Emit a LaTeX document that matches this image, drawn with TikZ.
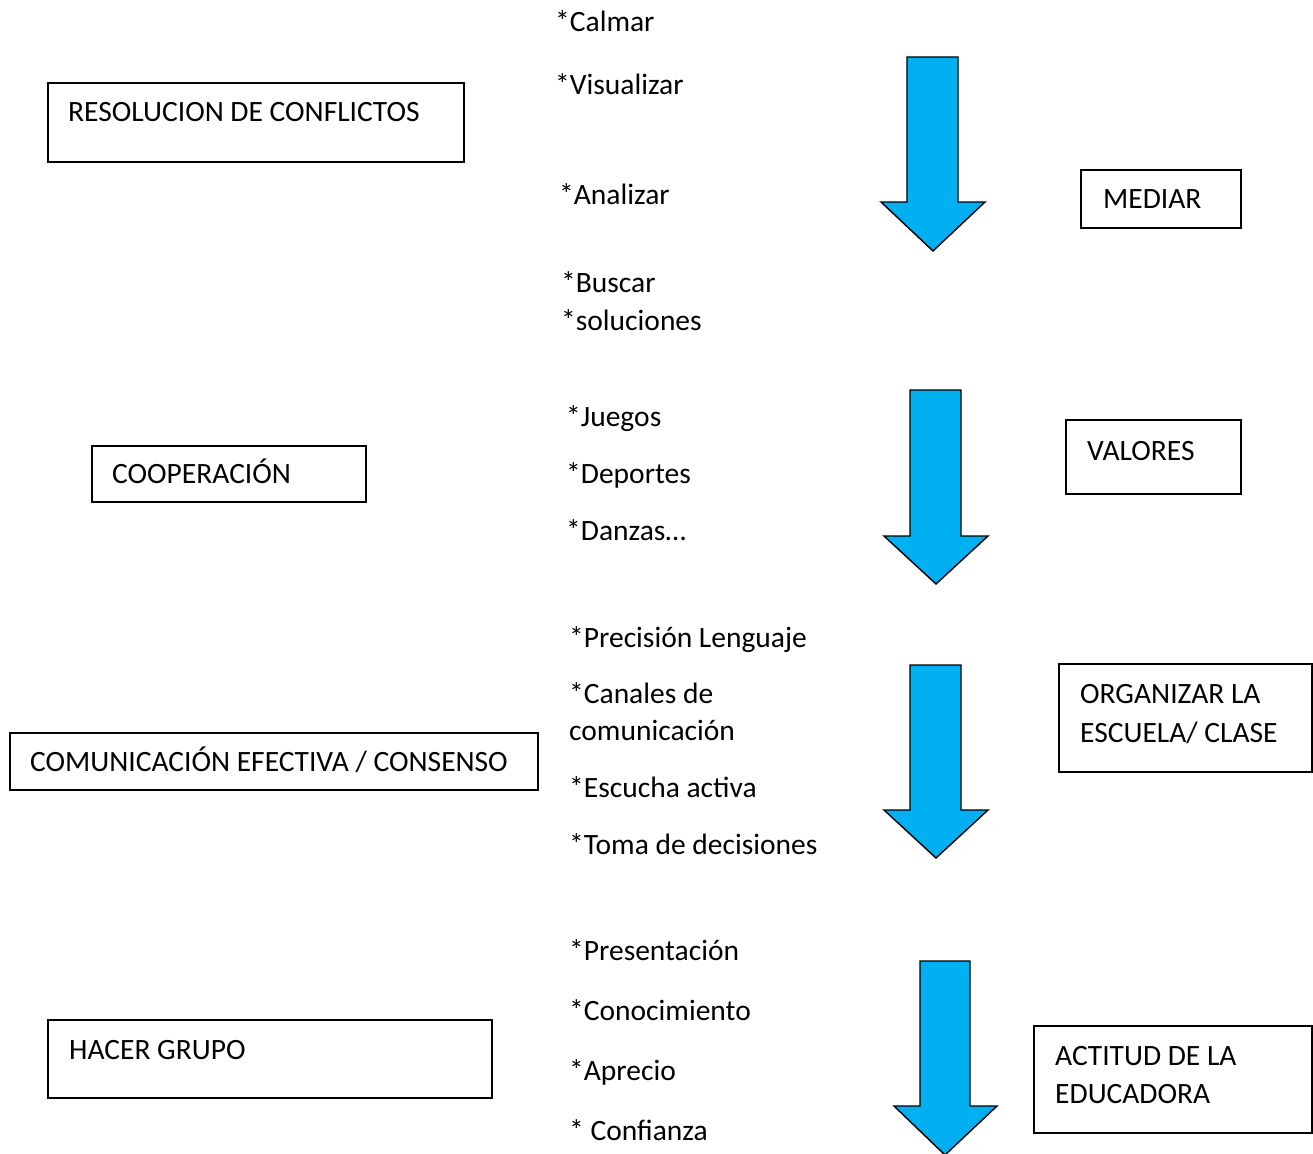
\documentclass[tikz,border=0pt]{standalone}
\usepackage{fontspec}
\setmainfont{Carlito}
\definecolor{arrowblue}{HTML}{00B0F0}
\begin{document}
\begin{tikzpicture}[x=1pt,y=-1pt,
  lbl/.style={anchor=west,inner sep=0pt,font=\fontsize{29.5}{35}\selectfont,text height=0.64em,text depth=0pt,yshift=-6.5pt},
  frame/.style={draw=black,line width=1.3pt},
  bigarrow/.style={draw=black,fill=arrowblue,line width=1.4pt,line join=miter}]
\useasboundingbox (0,0) rectangle (1313,1153);
% boxes
\draw[frame] (48,83) rectangle (464,162);
\node[lbl] (t1) at (68,112) {RESOLUCION DE CONFLICTOS};
\draw[frame] (1081,170) rectangle (1241,228);
\node[lbl] (t2) at (1103,199) {MEDIAR};
\draw[frame] (92,446) rectangle (366,502);
\node[lbl] (t3) at (112,474) {COOPERACIÓN};
\draw[frame] (1066,420) rectangle (1241,494);
\node[lbl] (t4) at (1087,451) {VALORES};
\draw[frame] (10,733) rectangle (538,790);
\node[lbl] (t5) at (30,762) {COMUNICACIÓN EFECTIVA / CONSENSO};
\draw[frame] (1059,664) rectangle (1312,772);
\node[lbl] (t6a) at (1080,694) {ORGANIZAR LA};
\node[lbl] (t6b) at (1080,733) {ESCUELA/ CLASE};
\draw[frame] (48,1020) rectangle (492,1098);
\node[lbl] (t7) at (69,1050) {HACER GRUPO};
\draw[frame] (1034,1026) rectangle (1312,1133);
\node[lbl] (t8a) at (1055,1056) {ACTITUD DE LA};
\node[lbl] (t8b) at (1055,1094) {EDUCADORA};
% arrows
\draw[bigarrow] (907,57) -- (958,57) -- (958,202) -- (985,202) -- (933,251) -- (881,202) -- (907,202) -- cycle;
\draw[bigarrow] (910,390) -- (961,390) -- (961,536) -- (988,536) -- (936,584) -- (884,536) -- (910,536) -- cycle;
\draw[bigarrow] (910,665) -- (961,665) -- (961,810) -- (988,810) -- (936,858) -- (884,810) -- (910,810) -- cycle;
\draw[bigarrow] (920,961) -- (970,961) -- (970,1106) -- (997,1106) -- (945,1155) -- (894,1106) -- (920,1106) -- cycle;
% lists
\node[lbl] (l1) at (555,22) {*Calmar};
\node[lbl] (l2) at (555,85) {*Visualizar};
\node[lbl] (l3) at (559,195) {*Analizar};
\node[lbl] (l4) at (561,283) {*Buscar};
\node[lbl] (l5) at (561,321) {*soluciones};
\node[lbl] (l6) at (566,417) {*Juegos};
\node[lbl] (l7) at (566,474) {*Deportes};
\node[lbl] (l8) at (566,531) {*Danzas…};
\node[lbl] (l9) at (569,638) {*Precisión Lenguaje};
\node[lbl] (l10) at (569,694) {*Canales de};
\node[lbl] (l11) at (569,731) {comunicación};
\node[lbl] (l12) at (569,788) {*Escucha activa};
\node[lbl] (l13) at (569,845) {*Toma de decisiones};
\node[lbl] (l14) at (569,951) {*Presentación};
\node[lbl] (l15) at (569,1011) {*Conocimiento};
\node[lbl] (l16) at (569,1071) {*Aprecio};
\node[lbl] (l17) at (569,1131) {* Confianza};
\end{tikzpicture}
\end{document}
